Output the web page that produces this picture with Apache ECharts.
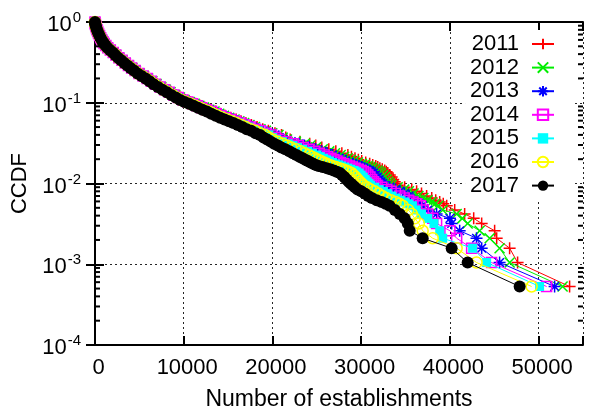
<!DOCTYPE html>
<html><head><meta charset="utf-8">
<script src="https://cdn.jsdelivr.net/npm/echarts@6/dist/echarts.min.js"></script>
<style>html,body{margin:0;padding:0;background:#fff}#c{width:593px;height:416px}</style>
</head><body><div id="c"></div>
<script>
// CCDF levels (shared y values) and, per year, the number of establishments at which each level is reached
const ccdfLevels = [
  1.0, 0.96, 0.93, 0.89, 0.85, 0.8, 0.76, 0.72, 0.68, 0.64,
  0.6, 0.57, 0.54, 0.51, 0.48, 0.45, 0.42, 0.39, 0.36, 0.335,
  0.31, 0.29, 0.27, 0.25, 0.23, 0.215, 0.2, 0.185, 0.17, 0.157,
  0.145, 0.135, 0.125, 0.116, 0.108, 0.102, 0.097, 0.092, 0.087, 0.082,
  0.078, 0.073, 0.069, 0.065, 0.062, 0.059, 0.056, 0.053, 0.05, 0.047,
  0.045, 0.042, 0.04, 0.037, 0.035, 0.033, 0.031, 0.0295, 0.028, 0.0265,
  0.025, 0.0237, 0.0225, 0.0215, 0.0205, 0.0197, 0.019, 0.0182, 0.0175, 0.017,
  0.0165, 0.016, 0.0155, 0.015, 0.0145, 0.014, 0.0135, 0.0127, 0.012, 0.0112,
  0.0105, 0.01, 0.0095, 0.009, 0.0084, 0.008, 0.0075, 0.007, 0.0066, 0.0062,
  0.0059, 0.0056, 0.0053, 0.0047, 0.0042, 0.0037, 0.0032, 0.0026, 0.0021, 0.00158,
  0.00105, 0.00053
];

const x2011 = [
  1, 21, 52, 100, 158, 232, 315, 410, 525, 652,
  790, 915, 1050, 1250, 1470, 1765, 2100, 2410, 2760, 3130,
  3500, 3870, 4240, 4645, 5090, 5565, 6040, 6520, 7000, 7530,
  8060, 8590, 9120, 9650, 10180, 10760, 11340, 11875, 12410, 13010,
  13610, 14150, 14690, 15300, 15910, 16455, 17000, 17630, 18260, 18900,
  19540, 20280, 21020, 21500, 22000, 23100, 24200, 24880, 25560, 26350,
  27140, 27820, 28500, 28900, 29300, 29680, 30060, 30510, 30960, 31300,
  31640, 31870, 32100, 32375, 32650, 32825, 33000, 33220, 33440, 33610,
  33780, 33950, 34120, 34900, 35700, 36250, 36800, 37375, 37950, 38400,
  38850, 39250, 39640, 40540, 41660, 42680, 43580, 45040, 45270, 46730,
  47630, 53490
];
const x2012 = [
  1, 21, 52, 99, 157, 230, 313, 407, 522, 648,
  784, 909, 1043, 1242, 1460, 1753, 2086, 2392, 2738, 3105,
  3472, 3839, 4206, 4608, 5049, 5521, 5992, 6468, 6944, 7470,
  7996, 8521, 9047, 9573, 10099, 10668, 11236, 11767, 12297, 12883,
  13469, 14003, 14537, 15132, 15727, 16265, 16804, 17416, 18028, 18648,
  19268, 19975, 20681, 21150, 21636, 22638, 23640, 24281, 24922, 25664,
  26406, 27047, 27688, 28081, 28474, 28843, 29212, 29641, 30070, 30404,
  30738, 31000, 31260, 31553, 31845, 32045, 32244, 32468, 32692, 32874,
  33055, 33232, 33410, 34116, 34846, 35375, 35904, 36455, 37005, 37469,
  37933, 38340, 38700, 39190, 40760, 41400, 42000, 43350, 44480, 45600,
  46730, 52700
];
const x2013 = [
  1, 21, 51, 99, 156, 228, 311, 404, 518, 642,
  778, 902, 1035, 1232, 1449, 1740, 2070, 2371, 2712, 3076,
  3440, 3804, 4168, 4566, 5003, 5471, 5938, 6409, 6880, 7401,
  7922, 8443, 8964, 9485, 10006, 10562, 11118, 11643, 12167, 12737,
  13307, 13835, 14363, 14940, 15517, 16049, 16580, 17171, 17762, 18360,
  18958, 19626, 20294, 20750, 21220, 22110, 23000, 23596, 24192, 24880,
  25568, 26164, 26760, 27145, 27530, 27886, 28242, 28647, 29052, 29380,
  29708, 30004, 30300, 30613, 30925, 31153, 31380, 31609, 31838, 32032,
  32226, 32411, 32599, 33220, 33870, 34375, 34880, 35403, 35500, 35850,
  36200, 36550, 36930, 37500, 38500, 40000, 40200, 41100, 43000, 43580,
  45600, 51800
];
const x2014 = [
  1, 21, 51, 98, 154, 226, 308, 401, 514, 637,
  772, 894, 1027, 1222, 1438, 1726, 2054, 2350, 2686, 3047,
  3408, 3769, 4130, 4523, 4957, 5420, 5884, 6350, 6816, 7332,
  7848, 8365, 8881, 9397, 9913, 10456, 11000, 11519, 12037, 12591,
  13145, 13667, 14189, 14748, 15307, 15832, 16356, 16926, 17496, 18072,
  18648, 19277, 19907, 20350, 20804, 21582, 22360, 22911, 23462, 24096,
  24730, 25281, 25832, 26209, 26586, 26929, 27272, 27653, 28034, 28356,
  28678, 29009, 29340, 29673, 30005, 30261, 30516, 30750, 30984, 31190,
  31397, 31590, 31788, 32324, 32894, 33375, 33856, 34351, 34845, 35341,
  35837, 36260, 36678, 37000, 37500, 38060, 38500, 40000, 40760, 42450,
  44700, 50900
];
const x2015 = [
  1, 20, 51, 97, 153, 225, 306, 398, 510, 633,
  766, 888, 1020, 1214, 1428, 1714, 2040, 2332, 2664, 3022,
  3380, 3738, 4096, 4486, 4916, 5376, 5836, 6298, 6760, 7272,
  7784, 8296, 8808, 9320, 9832, 10364, 10896, 11410, 11924, 12464,
  13004, 13520, 14036, 14580, 15124, 15642, 16160, 16712, 17264, 17820,
  18376, 18972, 19568, 20000, 20440, 21120, 21800, 22312, 22824, 23410,
  23996, 24508, 25020, 25390, 25760, 26092, 26424, 26784, 27144, 27460,
  27776, 28138, 28500, 28850, 29200, 29480, 29760, 29998, 30236, 30454,
  30672, 30872, 31078, 31540, 32040, 32500, 32960, 33430, 33900, 34410,
  34920, 35350, 35776, 36200, 36800, 37500, 38200, 38850, 39190, 42560,
  44140, 50110
];
const x2016 = [
  1, 20, 50, 96, 152, 223, 304, 395, 506, 628,
  760, 881, 1012, 1204, 1417, 1700, 2024, 2311, 2638, 2993,
  3348, 3703, 4058, 4444, 4870, 5326, 5782, 6239, 6696, 7203,
  7710, 8218, 8725, 9232, 9739, 10258, 10778, 11286, 11794, 12318,
  12842, 13352, 13862, 14388, 14914, 15425, 15936, 16467, 16998, 17532,
  18066, 18623, 19181, 19600, 20024, 20592, 21160, 21627, 22094, 22626,
  23158, 23625, 24092, 24454, 24816, 25135, 25454, 25790, 26126, 26436,
  26746, 27143, 27540, 27910, 28280, 28588, 28896, 29139, 29382, 29612,
  29843, 30051, 30267, 30644, 31064, 31500, 31936, 32378, 32820, 33346,
  33872, 34310, 34680, 35300, 35700, 36030, 36500, 36930, 38060, 40760,
  43000, 49210
];
const x2017 = [
  1, 20, 50, 95, 150, 220, 300, 390, 500, 620,
  750, 870, 1000, 1190, 1400, 1680, 2000, 2280, 2600, 2950,
  3300, 3650, 4000, 4380, 4800, 5250, 5700, 6150, 6600, 7100,
  7600, 8100, 8600, 9100, 9600, 10100, 10600, 11100, 11600, 12100,
  12600, 13100, 13600, 14100, 14600, 15100, 15600, 16100, 16600, 17100,
  17600, 18100, 18600, 19000, 19400, 19800, 20200, 20600, 21000, 21450,
  21900, 22300, 22700, 23050, 23400, 23700, 24000, 24300, 24600, 24900,
  25200, 25650, 26100, 26500, 26900, 27250, 27600, 27850, 28100, 28350,
  28600, 28820, 29050, 29300, 29600, 30000, 30400, 30800, 31200, 31750,
  32300, 32750, 33200, 33800, 34350, 34900, 35250, 35470, 36930, 40200,
  42000, 47860
];

const years = ['2011', '2012', '2013', '2014', '2015', '2016', '2017'];
const seriesX = [x2011, x2012, x2013, x2014, x2015, x2016, x2017];
const xTickValues = [0, 10000, 20000, 30000, 40000, 50000];
const yTickValues = [1e-4, 1e-3, 1e-2, 1e-1, 1];
const minorMults = [2, 3, 4, 5, 6, 7, 8, 9];

const colors = ['#ff0000', '#00ee00', '#0000ff', '#ff00ff', '#00ffff', '#ffff00', '#000000'];
const symbols = [
  'path://M-5,0L5,0M0,-5L0,5',
  'path://M-5,-5L5,5M-5,5L5,-5',
  'path://M-5,0L5,0M0,-5L0,5M-3.6,-3.6L3.6,3.6M-3.6,3.6L3.6,-3.6',
  'path://M-5,-5L5,-5L5,5L-5,5Z',
  'rect',
  'path://M5,0A5,5 0 1 1 -5,0A5,5 0 1 1 5,0Z',
  'circle'
];
const symbolSizes = [12, 10, 12, 10, 9, 11, 12];
const filled = [false, false, false, false, true, false, true];

const FONT = 'Liberation Sans, Arial, Helvetica, sans-serif';
const minorTicks = [];
for (let d = -4; d < 0; d++) minorMults.forEach(m => minorTicks.push(m * Math.pow(10, d)));

const X_MIN = 0, X_MAX = 55000;

const series = years.map((yr, i) => ({
  name: yr,
  type: 'line',
  data: seriesX[i].map((x, j) => [x, ccdfLevels[j]]),
  symbol: symbols[i],
  symbolSize: symbolSizes[i],
  clip: false,
  animation: false,
  lineStyle: { color: colors[i], width: 1 },
  itemStyle: {
    color: filled[i] ? colors[i] : 'rgba(0,0,0,0)',
    borderColor: colors[i],
    borderWidth: filled[i] ? 0 : 1.5
  },
  emphasis: { disabled: true },
  z: 2 + i * 0.01
}));

series.push({
  type: 'custom',
  xAxisIndex: 0,
  yAxisIndex: 0,
  silent: true,
  animation: false,
  z: 6,
  data: minorTicks.map(v => [X_MIN, v]),
  renderItem: (params, api) => {
    const v = api.value(1);
    const pL = api.coord([X_MIN, v]);
    const pR = api.coord([X_MAX, v]);
    return {
      type: 'group',
      children: [
        { type: 'line', shape: { x1: pL[0], y1: pL[1], x2: pL[0] + 5, y2: pL[1] }, style: { stroke: '#000', lineWidth: 2 } },
        { type: 'line', shape: { x1: pR[0] - 5, y1: pR[1], x2: pR[0], y2: pR[1] }, style: { stroke: '#000', lineWidth: 2 } }
      ]
    };
  }
});

const axisLineStyle = { show: true, lineStyle: { color: '#000', width: 2 } };
const tickStyle = { show: true, inside: true, length: 9, lineStyle: { color: '#000', width: 2 } };
const gridLine = { show: true, lineStyle: { color: '#000', width: 1, type: [2, 3], opacity: 0.85 } };

const option = {
  backgroundColor: '#fff',
  animation: false,
  grid: { left: 95, right: 10, top: 22, bottom: 67, containLabel: false },
  legend: {
    data: years,
    orient: 'vertical',
    right: 20,
    top: 30,
    align: 'right',
    itemWidth: 22,
    itemHeight: 13,
    itemGap: 1.6,
    padding: [3, 18, 3, 5],
    backgroundColor: '#fff',
    selectedMode: false,
    textStyle: { fontSize: 22, fontFamily: FONT, color: '#000', lineHeight: 20, padding: [0, 8, 0, 0] }
  },
  xAxis: [
    {
      type: 'value', position: 'bottom', min: X_MIN, max: X_MAX, interval: 10000,
      axisLine: axisLineStyle, axisTick: tickStyle,
      axisLabel: {
        fontSize: 22, fontFamily: FONT, color: '#000', margin: 12, padding: [0, 0, 0, 7],
        formatter: v => (xTickValues.indexOf(v) >= 0 ? String(v) : '')
      },
      splitLine: gridLine,
      name: 'Number of establishments', nameLocation: 'middle', nameGap: 43,
      nameTextStyle: { fontSize: 23, fontFamily: FONT, color: '#000' }
    },
    {
      type: 'value', position: 'top', min: X_MIN, max: X_MAX, interval: 10000,
      axisLine: axisLineStyle, axisTick: tickStyle,
      axisLabel: { show: false }, splitLine: { show: false }
    }
  ],
  yAxis: [
    {
      type: 'log', logBase: 10, position: 'left', min: 1e-4, max: 1, splitNumber: 4,
      axisLine: axisLineStyle, axisTick: tickStyle,
      axisLabel: {
        margin: 14, color: '#000',
        formatter: v => {
          const e = Math.round(Math.log10(v));
          return '{b|10}{s|' + e + '}';
        },
        rich: {
          b: { fontSize: 22, fontFamily: FONT, color: '#000', padding: [6, 0, 0, 0] },
          s: { fontSize: 15, fontFamily: FONT, color: '#000', padding: [0, 0, 8, 1] }
        }
      },
      splitLine: gridLine,
      name: 'CCDF', nameLocation: 'middle', nameGap: 60,
      nameTextStyle: { fontSize: 22, fontFamily: FONT, color: '#000' }
    },
    {
      type: 'log', logBase: 10, position: 'right', min: 1e-4, max: 1, splitNumber: 4,
      axisLine: axisLineStyle, axisTick: tickStyle,
      axisLabel: { show: false }, splitLine: { show: false }
    }
  ],
  series: series
};

const chart = echarts.init(document.getElementById('c'), null, { renderer: 'canvas' });
chart.setOption(option);
</script>
</body></html>
